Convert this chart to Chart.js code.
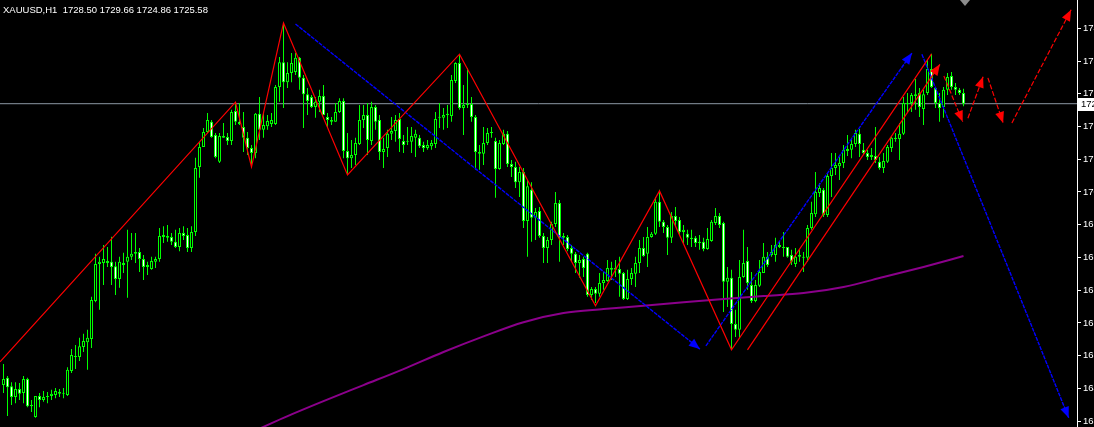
<!DOCTYPE html>
<html><head><meta charset="utf-8">
<script src="https://cdn.jsdelivr.net/npm/chart.js@4.4.1/dist/chart.umd.min.js"></script>
<style>html,body{margin:0;padding:0;background:#000;overflow:hidden}canvas{display:block}</style>
</head><body>
<canvas id="c" width="1094" height="427"></canvas>
<script>
const symbol = 'XAUUSD,H1';
const open = [
1648.2,1650.2,1647.9,1644.9,1647.1,1646.0,1649.9,1642.4,1639.4,1645.2,
1644.1,1644.9,1645.2,1645.5,1646.3,1645.8,1645.5,1652.1,1656.2,1655.9,
1658.7,1660.0,1660.9,1671.3,1681.5,1681.8,1682.3,1682.1,1680.9,1677.4,
1681.8,1682.1,1683.5,1684.3,1684.8,1682.9,1680.7,1680.1,1682.1,1682.9,
1688.9,1689.2,1688.9,1687.6,1686.2,1690.0,1689.5,1685.9,1690.3,1708.2,
1713.7,1717.8,1720.6,1717.0,1709.6,1716.7,1716.4,1715.3,1723.6,1720.6,
1719.2,1716.2,1713.4,1712.0,1722.8,1718.4,1719.4,1720.0,1720.0,1730.2,
1737.0,1731.5,1734.0,1734.3,1738.2,1732.7,1728.2,1727.4,1724.7,1726.1,
1727.7,1721.9,1721.1,1720.6,1723.3,1726.3,1712.6,1710.6,1711.5,1714.5,
1721.1,1722.5,1715.3,1724.7,1721.1,1712.3,1713.4,1717.3,1718.1,1721.4,
1715.3,1715.1,1715.1,1716.2,1716.2,1714.2,1713.4,1713.9,1714.5,1721.7,
1721.7,1722.5,1722.2,1731.8,1736.8,1724.4,1725.2,1725.5,1721.9,1712.3,
1711.8,1714.8,1717.5,1715.3,1707.6,1714.5,1717.3,1709.0,1708.2,1704.0,
1706.8,1693.3,1701.9,1694.2,1696.1,1689.2,1685.9,1688.1,1692.5,1698.3,
1688.7,1688.9,1685.9,1684.3,1681.8,1682.9,1684.3,1673.0,1674.6,1673.3,
1676.3,1676.8,1680.4,1679.9,1680.1,1679.0,1671.9,1677.4,1678.8,1681.8,
1685.9,1684.3,1688.9,1689.8,1698.6,1693.1,1691.7,1688.7,1694.7,1693.6,
1690.3,1689.8,1688.7,1688.7,1687.3,1687.6,1685.6,1687.8,1692.8,1694.7,
1692.8,1676.6,1677.7,1665.0,1663.4,1677.9,1682.3,1675.7,1671.3,1675.5,
1679.0,1683.5,1684.0,1684.0,1686.7,1686.2,1686.2,1684.0,1681.5,1683.5,
1683.2,1683.2,1691.4,1695.2,1701.0,1701.9,1695.0,1705.7,1707.9,1708.4,
1709.3,1712.6,1712.9,1714.5,1717.3,1712.9,1712.0,1710.9,1711.2,1709.6,
1707.9,1709.6,1713.4,1715.9,1715.9,1717.3,1725.5,1725.8,1727.7,1728.5,
1724.1,1728.5,1735.1,1729.9,1725.8,1724.7,1729.4,1733.2,1730.2,1729.4,
1728.50];
const high = [
1654.0,1650.7,1649.0,1649.0,1648.8,1650.7,1650.2,1644.1,1645.2,1646.0,
1646.6,1646.3,1646.9,1647.4,1647.1,1647.4,1653.1,1658.1,1659.2,1661.2,
1662.3,1663.4,1672.5,1684.3,1683.5,1686.7,1686.2,1689.0,1682.1,1683.5,
1684.6,1690.9,1690.0,1690.0,1685.9,1684.0,1682.1,1683.5,1683.5,1691.4,
1691.9,1692.2,1690.0,1690.9,1691.4,1691.9,1691.4,1691.9,1710.7,1715.0,
1718.9,1723.0,1721.1,1717.5,1717.5,1720.3,1717.5,1723.9,1725.8,1725.8,
1723.3,1717.8,1714.2,1723.0,1727.4,1723.0,1722.5,1723.0,1730.7,1738.4,
1747.8,1737.0,1739.5,1739.5,1738.4,1733.5,1729.9,1728.0,1727.4,1729.4,
1730.7,1723.0,1721.9,1725.8,1727.1,1727.1,1717.5,1715.6,1716.2,1725.2,
1725.2,1725.8,1726.1,1725.2,1722.5,1716.2,1718.4,1721.9,1722.5,1723.0,
1717.0,1719.2,1719.2,1718.4,1717.0,1715.1,1715.6,1715.6,1723.3,1725.8,
1724.4,1725.2,1733.5,1737.0,1739.0,1730.7,1735.4,1727.4,1722.5,1714.2,
1719.2,1718.9,1719.2,1716.2,1715.6,1718.4,1718.1,1710.1,1709.6,1708.2,
1707.9,1704.6,1704.0,1696.9,1697.2,1690.0,1688.9,1693.1,1701.3,1699.1,
1690.0,1689.5,1686.7,1684.8,1684.0,1683.5,1684.6,1675.2,1675.2,1679.0,
1679.3,1682.6,1682.1,1682.6,1683.5,1679.3,1679.9,1680.4,1683.5,1688.1,
1688.9,1691.7,1690.3,1699.9,1701.9,1693.6,1692.2,1695.8,1697.2,1694.4,
1692.2,1690.9,1690.9,1689.2,1689.5,1688.7,1691.4,1693.6,1696.9,1695.5,
1693.1,1680.7,1679.9,1668.9,1682.6,1690.9,1686.2,1679.3,1677.1,1682.6,
1687.3,1684.8,1686.7,1688.7,1687.6,1690.3,1686.2,1685.4,1685.9,1685.4,
1684.8,1692.2,1698.6,1706.8,1703.8,1702.4,1706.5,1712.0,1712.0,1710.9,
1714.2,1717.0,1716.2,1718.4,1718.6,1714.8,1712.9,1713.4,1719.2,1710.9,
1712.0,1714.2,1716.4,1717.5,1720.3,1727.4,1728.5,1728.5,1732.4,1729.9,
1729.4,1737.6,1739.3,1730.2,1728.5,1730.2,1734.0,1734.3,1731.3,1729.9,
1729.66];
const low = [
1646.0,1639.7,1642.7,1643.2,1644.1,1643.2,1642.1,1640.8,1639.2,1642.1,
1643.6,1643.2,1644.1,1644.6,1644.9,1644.6,1645.2,1651.5,1652.6,1654.8,
1657.3,1652.4,1658.4,1671.0,1668.9,1675.7,1680.7,1675.7,1673.0,1675.0,
1679.0,1672.2,1682.6,1681.8,1679.3,1677.1,1678.5,1679.9,1680.4,1682.1,
1687.3,1687.6,1686.7,1685.9,1685.0,1688.1,1684.8,1684.8,1689.2,1705.2,
1713.7,1717.5,1716.2,1710.6,1709.3,1716.2,1714.2,1714.2,1719.7,1719.7,
1712.3,1711.5,1708.2,1710.6,1715.6,1716.2,1718.4,1719.2,1719.7,1726.1,
1724.4,1729.9,1731.5,1733.5,1729.4,1718.9,1722.5,1724.4,1721.7,1723.3,
1722.5,1718.9,1719.7,1720.6,1723.0,1710.6,1706.3,1707.9,1708.7,1714.2,
1718.9,1711.5,1714.2,1718.4,1710.1,1707.9,1710.9,1715.6,1715.1,1712.3,
1712.0,1714.2,1712.0,1710.9,1713.4,1712.3,1712.9,1712.9,1713.4,1718.9,
1718.4,1718.9,1720.6,1731.3,1723.9,1717.0,1724.4,1720.6,1707.4,1707.4,
1708.7,1714.2,1716.2,1699.7,1707.4,1714.2,1708.2,1705.4,1702.4,1699.9,
1691.4,1683.5,1687.6,1688.1,1688.7,1681.8,1681.8,1686.7,1691.7,1682.1,
1686.7,1685.0,1682.1,1679.0,1677.7,1677.9,1672.5,1671.6,1670.8,1672.5,
1674.4,1676.6,1677.1,1677.9,1672.5,1671.6,1671.6,1675.7,1675.2,1679.0,
1683.5,1680.7,1688.7,1689.5,1691.7,1690.0,1684.0,1687.3,1691.7,1689.5,
1687.3,1686.7,1686.2,1686.2,1685.4,1685.0,1685.4,1687.6,1692.2,1691.4,
1668.3,1669.7,1657.9,1661.4,1661.2,1677.7,1674.4,1670.8,1671.0,1675.2,
1679.0,1680.7,1683.5,1682.1,1685.9,1683.5,1683.2,1681.2,1680.7,1682.1,
1679.3,1682.1,1690.9,1694.4,1699.9,1694.4,1694.4,1699.9,1706.0,1704.6,
1707.9,1711.2,1710.6,1713.7,1710.9,1711.5,1710.1,1710.1,1709.3,1707.4,
1706.5,1709.3,1712.3,1715.1,1710.1,1717.0,1723.3,1723.3,1723.9,1721.9,
1719.7,1728.0,1729.9,1724.4,1720.6,1721.7,1728.0,1729.4,1728.0,1728.0,
1724.86];
const close = [
1649.9,1647.6,1644.9,1647.1,1645.8,1649.9,1642.4,1642.7,1645.2,1644.1,
1644.9,1645.2,1645.8,1646.6,1645.8,1646.0,1652.4,1656.5,1655.9,1658.9,
1660.3,1661.2,1671.6,1681.5,1682.1,1682.9,1681.8,1680.7,1677.4,1682.1,
1681.2,1683.5,1684.3,1684.8,1682.9,1680.7,1681.2,1682.3,1682.9,1689.2,
1689.5,1688.7,1687.6,1686.2,1690.0,1689.2,1685.9,1690.3,1707.9,1713.7,
1717.8,1721.1,1716.4,1710.9,1716.7,1716.2,1715.3,1723.3,1720.6,1720.0,
1716.2,1713.4,1712.0,1722.8,1718.4,1719.7,1720.8,1721.1,1730.2,1737.0,
1731.5,1734.0,1736.8,1738.2,1732.7,1728.2,1726.3,1724.7,1726.1,1727.7,
1722.5,1721.1,1720.6,1723.3,1726.3,1712.6,1710.6,1711.5,1714.8,1721.1,
1722.5,1715.6,1724.7,1720.6,1712.3,1713.1,1717.3,1718.1,1721.1,1715.9,
1714.2,1715.3,1716.7,1717.3,1713.9,1713.4,1714.2,1714.8,1721.4,1721.9,
1722.5,1722.8,1732.1,1736.8,1724.4,1725.2,1725.5,1721.9,1712.3,1711.8,
1714.8,1717.5,1717.8,1707.6,1714.8,1717.3,1709.0,1708.2,1704.0,1706.8,
1693.3,1702.9,1694.2,1695.8,1689.2,1685.9,1688.1,1692.5,1698.3,1688.7,
1689.2,1685.6,1684.3,1681.8,1682.6,1680.4,1673.0,1674.6,1673.3,1676.3,
1677.1,1680.4,1679.9,1680.4,1678.8,1671.9,1677.4,1679.0,1681.8,1685.9,
1683.7,1688.9,1689.8,1698.6,1693.1,1691.7,1688.7,1694.7,1693.3,1690.3,
1690.9,1688.7,1688.4,1687.3,1687.6,1685.6,1688.4,1693.1,1694.7,1692.2,
1676.6,1677.7,1665.0,1663.4,1677.9,1681.8,1676.3,1671.3,1675.7,1679.3,
1683.5,1681.2,1684.8,1686.7,1686.2,1685.9,1683.5,1682.1,1683.5,1684.0,
1683.5,1691.4,1695.5,1701.3,1702.4,1695.0,1705.7,1707.9,1708.7,1709.3,
1712.9,1713.1,1714.5,1717.5,1714.5,1712.0,1710.9,1711.5,1710.1,1707.9,
1709.8,1713.7,1716.2,1716.2,1717.3,1725.8,1725.8,1728.0,1728.2,1724.7,
1728.2,1735.1,1730.2,1725.8,1724.4,1729.4,1732.9,1730.2,1729.4,1728.5,
1725.58];

// price axis tick labels
const yTicks = [1746.3,1737.3,1728.3,1719.3,1710.3,1701.3,1692.3,1683.3,1674.3,1665.3,1656.3,1647.3,1638.3];

// moving average (bar index, value)
const maIndex  = [60,70,80,90,100,110,120,130,140,150,160,170,180,190,200,210,220,230,240];
const maValues = [1634.2,1639.2,1643.8,1648.2,1652.6,1657.3,1661.6,1665.5,1668.0,1669.1,1670.0,1671.0,1671.9,1672.7,1673.5,1675.2,1677.9,1680.7,1683.7];

// drawn objects: [bar index, price]
const zigzag = [[-0.875,1654.6],[58,1726.0],[62,1708.2],[70,1747.8],[86,1706.0],[114,1739.2],[148,1670.0],[164,1701.6],[182,1657.9],[232,1739.3]];
const channelLine = [[186,1657.9],[234.1,1736.4]];
const blueDown1 = [[73,1747.5],[174.1,1658.1]];
const blueUp = [[175.6,1659.0],[227.1,1739.5]];
const blueDown2 = [[229.6,1739.2],[266.3,1639.2]];
const fc1 = [[235.1,1733.2],[239.8,1720.6]];
const fc2 = [[241.1,1721.6],[244.9,1733.0]];
const fc3 = [[246.1,1732.7],[249.9,1720.3]];
const fc4 = [[252.1,1720.3],[266.9,1751.4]];

const X_MIN = -0.875, X_MAX = 268.375, Y_MIN = 1636.675, Y_MAX = 1754.1;
const LIME = '#00ff00', RED = '#ff0000', BLUE = '#0000ff';
const FONT = "'Liberation Sans', Arial, sans-serif";

const idx = open.map((_, i) => i);
const last = close.length - 1;
const toPts = a => a.map(([x, y]) => ({x, y}));
const lineDs = (pts, color, dash, arrow, width) => ({
  type: 'line', data: toPts(pts), borderColor: color, backgroundColor: color,
  borderWidth: width || 1, borderDash: dash || [], pointRadius: 0, fill: false,
  tension: 0, arrowHead: !!arrow, order: 0
});

const overlay = {
  id: 'overlay',
  afterDatasetsDraw(chart) {
    const ctx = chart.ctx;
    chart.data.datasets.forEach((ds, i) => {
      if (!ds.arrowHead) return;
      const pts = chart.getDatasetMeta(i).data;
      const a = pts[pts.length - 2], b = pts[pts.length - 1];
      const ang = Math.atan2(b.y - a.y, b.x - a.x);
      const L = 11, W = 4.5, c = Math.cos(ang), s = Math.sin(ang);
      ctx.save();
      ctx.fillStyle = ds.borderColor;
      ctx.beginPath();
      ctx.moveTo(b.x, b.y);
      ctx.lineTo(b.x - L * c + W * s, b.y - L * s - W * c);
      ctx.lineTo(b.x - L * c - W * s, b.y - L * s + W * c);
      ctx.closePath();
      ctx.fill();
      ctx.restore();
    });
  },
  afterDraw(chart) {
    const ctx = chart.ctx, ys = chart.scales.y, xs = chart.scales.x;
    ctx.save();
    ctx.fillStyle = '#ffffff';
    ctx.font = '9.5px ' + FONT;
    ctx.textBaseline = 'alphabetic';
    ctx.textAlign = 'left';
    ctx.fillText(symbol + '  ' + open[last].toFixed(2) + ' ' + high[last].toFixed(2) + ' ' + low[last].toFixed(2) + ' ' + close[last].toFixed(2), 3, 13);
    const py = Math.round(ys.getPixelForValue(close[last]));
    ctx.fillStyle = '#ffffff';
    ctx.fillRect(ys.left + 1, py - 6, chart.width - ys.left - 1, 13);
    ctx.fillStyle = '#000000';
    ctx.textBaseline = 'middle';
    ctx.fillText(close[last].toFixed(2), ys.left + 4, py + 0.5);
    const sx = Math.round(xs.getPixelForValue(last)) + 1;
    ctx.fillStyle = '#8c8c8c';
    ctx.beginPath();
    ctx.moveTo(sx - 5, 0); ctx.lineTo(sx + 5, 0); ctx.lineTo(sx, 6); ctx.closePath();
    ctx.fill();
    ctx.restore();
  }
};

new Chart(document.getElementById('c'), {
  type: 'bar',
  data: {
    datasets: [
      lineDs(zigzag, RED, [], false, 1.2),
      lineDs(channelLine, RED, [], true, 1.2),
      lineDs(blueDown1, BLUE, [4, 1], true, 1.4),
      lineDs(blueUp, BLUE, [4, 1], true, 1.4),
      lineDs(blueDown2, BLUE, [4, 1], true, 1.4),
      lineDs(fc1, RED, [5, 2], true, 1.2),
      lineDs(fc2, RED, [5, 2], true, 1.2),
      lineDs(fc3, RED, [5, 2], true, 1.2),
      lineDs(fc4, RED, [5, 2], true, 1.2),
      Object.assign(lineDs(maIndex.map((x, k) => [x, maValues[k]]), '#8b008b', [], false, 2), {cubicInterpolationMode: 'monotone'}),
      {
        type: 'bar', label: 'body', order: 1, grouped: false,
        data: idx.map(i => ({x: i, y: [open[i], close[i]]})),
        barThickness: 3, borderWidth: 1, borderColor: LIME, borderSkipped: false,
        backgroundColor: idx.map(i => close[i] < open[i] ? '#ffffff' : '#000000'),
        minBarLength: 1, inflateAmount: 0
      },
      {
        type: 'bar', label: 'wick', order: 2, grouped: false,
        data: idx.map(i => ({x: i, y: [low[i], high[i]]})),
        barThickness: 1, borderWidth: 0, backgroundColor: LIME, inflateAmount: 0
      },
      Object.assign(lineDs([[X_MIN, close[last]], [X_MAX, close[last]]], '#8c98a4', [], false), {order: 3})
    ]
  },
  options: {
    responsive: false,
    devicePixelRatio: 1,
    animation: false,
    events: [],
    layout: {padding: 0},
    plugins: {legend: {display: false}, tooltip: {enabled: false}, title: {display: false}},
    scales: {
      x: {type: 'linear', min: X_MIN, max: X_MAX, display: false, offset: false},
      y: {
        type: 'linear', position: 'right', min: Y_MIN, max: Y_MAX,
        afterBuildTicks: s => { s.ticks = yTicks.map(v => ({value: v})); },
        afterFit: s => { s.width = 17; s.paddingTop = 0; s.paddingBottom = 0; },
        grid: {drawOnChartArea: false, drawTicks: true, tickLength: 4, color: '#ffffff', lineWidth: 1},
        border: {display: true, color: '#ffffff', width: 1},
        ticks: {color: '#ffffff', font: {family: FONT, size: 9.5}, padding: 2, autoSkip: false, maxRotation: 0,
                callback: v => Number(v).toFixed(2)}
      }
    }
  },
  plugins: [overlay]
});
</script>
</body></html>
